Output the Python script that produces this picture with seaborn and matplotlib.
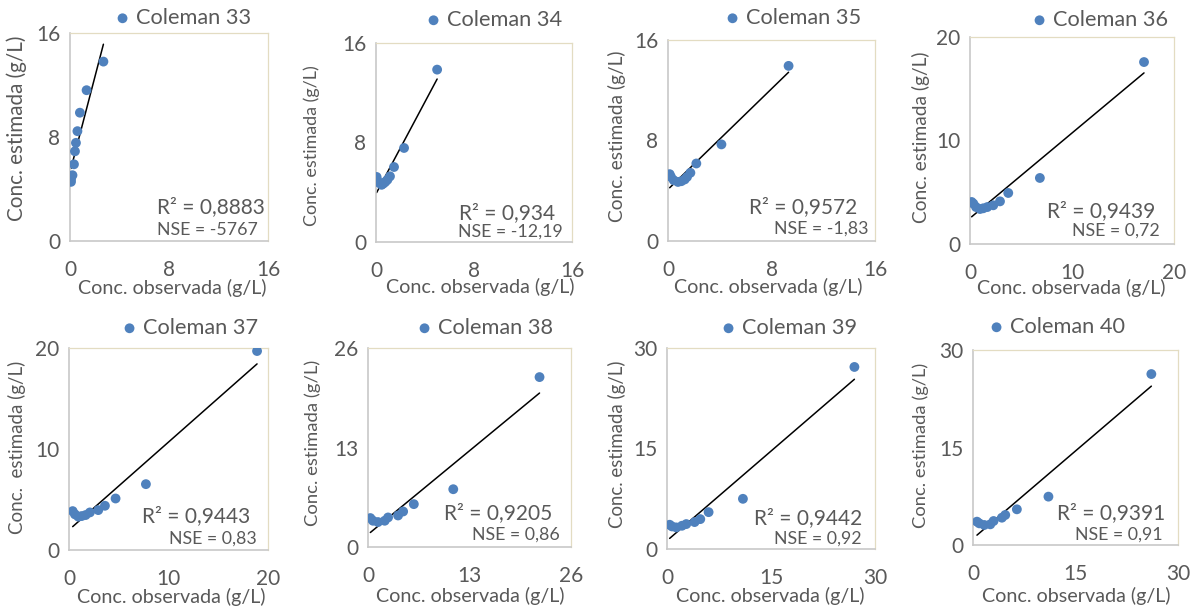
import numpy as np
import pandas as pd
import matplotlib
matplotlib.use("Agg")
import matplotlib.pyplot as plt
import seaborn as sns

# Observed vs. estimated sediment concentration, Coleman runs 33-40
names = ["Coleman 33", "Coleman 34", "Coleman 35", "Coleman 36",
         "Coleman 37", "Coleman 38", "Coleman 39", "Coleman 40"]

obs_33 = [0.08, 0.08, 0.20, 0.32, 0.40, 0.48, 0.60, 0.80, 1.34, 2.70]
est_33 = [4.55, 4.75, 5.06, 5.90, 6.90, 7.55, 8.45, 9.87, 11.60, 13.80]

obs_34 = [0.05, 0.10, 0.27, 0.46, 0.60, 0.76, 0.93, 1.14, 1.47, 2.29, 4.99]
est_34 = [5.23, 4.96, 4.75, 4.60, 4.70, 4.83, 5.00, 5.28, 6.03, 7.56, 13.86]

obs_35 = [0.13, 0.23, 0.44, 0.77, 1.03, 1.29, 1.47, 1.73, 2.19, 4.13, 9.32]
est_35 = [5.32, 5.10, 4.84, 4.70, 4.76, 4.90, 5.10, 5.43, 6.17, 7.69, 13.94]

obs_36 = [0.16, 0.33, 0.59, 0.98, 1.30, 1.70, 2.28, 2.94, 3.75, 6.85, 17.06]
est_36 = [4.06, 3.90, 3.57, 3.38, 3.45, 3.57, 3.74, 4.12, 4.93, 6.38, 17.58]

obs_37 = [0.37, 0.60, 0.94, 1.27, 1.67, 2.10, 2.94, 3.61, 4.68, 7.73, 18.90]
est_37 = [3.85, 3.53, 3.30, 3.36, 3.46, 3.72, 3.95, 4.38, 5.10, 6.52, 19.70]

obs_38 = [0.30, 0.64, 1.28, 2.14, 2.57, 3.85, 4.50, 5.87, 10.92, 21.97]
est_38 = [3.78, 3.43, 3.26, 3.43, 3.86, 4.12, 4.64, 5.60, 7.55, 22.20]

obs_39 = [0.38, 0.72, 1.34, 2.16, 2.78, 3.98, 4.80, 6.00, 10.95, 27.03]
est_39 = [3.62, 3.37, 3.22, 3.47, 3.72, 4.02, 4.46, 5.50, 7.49, 27.17]

obs_40 = [0.58, 0.92, 1.65, 2.53, 3.01, 4.23, 4.72, 6.42, 11.04, 26.10]
est_40 = [3.59, 3.33, 3.08, 3.18, 3.69, 4.20, 4.62, 5.49, 7.44, 26.30]

observed = [obs_33, obs_34, obs_35, obs_36, obs_37, obs_38, obs_39, obs_40]
estimated = [est_33, est_34, est_35, est_36, est_37, est_38, est_39, est_40]

axis_max = [16, 16, 16, 20, 20, 26, 30, 30]
tick_values = [[0, 8, 16], [0, 8, 16], [0, 8, 16], [0, 10, 20],
               [0, 10, 20], [0, 13, 26], [0, 15, 30], [0, 15, 30]]

r2_labels = ["R² = 0,8883", "R² = 0,934", "R² = 0,9572", "R² = 0,9439",
             "R² = 0,9443", "R² = 0,9205", "R² = 0,9442", "R² = 0,9391"]
nse_labels = ["NSE = -5767", "NSE = -12,19", "NSE = -1,83", "NSE = 0,72",
              "NSE = 0,83", "NSE = 0,86", "NSE = 0,92", "NSE = 0,91"]

x_title = "Conc. observada (g/L)"
y_titles = ["Conc. estimada (g/L)"] * 4 + ["Conc.  estimada (g/L)"] + ["Conc. estimada (g/L)"] * 3

# ---- layout (pixel coordinates on a 1199 x 608 canvas) ----
W, H = 1199, 608
# plot-area boxes: left, right, top, bottom
boxes = [(70, 268, 33, 241), (376, 572, 43, 242), (668, 875, 40, 241), (970, 1174, 37, 244),
         (69, 268, 348, 550), (368, 571, 348, 547), (667, 875, 348, 549), (973, 1178, 350, 545)]
legend_pos = [(123, 18), (434, 20), (733, 18), (1040, 20),
              (130, 328), (425, 328), (729, 328), (997, 327)]
r2_pos = [(265, 207), (555, 213), (857, 207), (1155, 211),
          (250, 516), (552, 513), (862, 518), (1165, 513)]
nse_pos = [(258, 230), (563, 232), (869, 229), (1160, 231),
           (257, 539), (560, 535), (862, 539), (1163, 535)]
xlab_pos = [(172, 288), (480, 287), (768, 287), (1071, 288),
            (171, 597), (470, 596), (770, 596), (1076, 596)]
ylab_pos = [(17, 128), (312, 146), (617, 136), (921, 137),
            (17, 447), (313, 443), (617, 444), (921, 445)]
ylab_size = [14.9, 12.9, 13.8, 13.8, 13.5, 13.3, 13.4, 13.2]

sns.set_style("white")
plt.rcParams["font.family"] = ["Lato", "DejaVu Sans"]

TEXT = "#595959"
AXIS = "#c8c8c8"
FRAME = "#e3dcc2"
BLUE = "#4f81bd"


def fx(x):
    return x / W


def fy(y):
    return 1 - y / H


fig = plt.figure(figsize=(W / 100, H / 100), dpi=100)

for i in range(8):
    l, r, t, b = boxes[i]
    ax = fig.add_axes([fx(l), fy(b), (r - l) / W, (b - t) / H])
    df = pd.DataFrame({"obs": observed[i], "est": estimated[i]})

    sns.regplot(data=df, x="obs", y="est", ax=ax, scatter=False, ci=None,
                truncate=True, color="black", line_kws={"linewidth": 1.1, "zorder": 2})
    sns.scatterplot(data=df, x="obs", y="est", ax=ax, color=BLUE, s=50,
                    edgecolor="none", label=names[i], zorder=3)

    m = axis_max[i]
    ax.set_xlim(0, m)
    ax.set_ylim(0, m)
    ax.set_xticks(tick_values[i])
    ax.set_yticks(tick_values[i])
    ax.tick_params(axis="both", direction="out", length=4, width=1.1, color=AXIS,
                   labelcolor=TEXT, labelsize=15)
    ax.tick_params(axis="x", pad=9.5)
    ax.tick_params(axis="y", pad=3)
    for side in ("left", "bottom"):
        ax.spines[side].set_color(AXIS)
        ax.spines[side].set_linewidth(1.2)
    for side in ("top", "right"):
        ax.spines[side].set_color(FRAME)
        ax.spines[side].set_linewidth(0.9)
    ax.set_facecolor("white")

    ax.set_xlabel(x_title, fontsize=14.2, color=TEXT, va="center", ha="center")
    ax.xaxis.set_label_coords(fx(xlab_pos[i][0]), fy(xlab_pos[i][1]), transform=fig.transFigure)
    ax.set_ylabel(y_titles[i], fontsize=ylab_size[i], color=TEXT, va="center", ha="center")
    ax.yaxis.set_label_coords(fx(ylab_pos[i][0]), fy(ylab_pos[i][1]), transform=fig.transFigure)

    mx, my = legend_pos[i]
    ax.legend(loc="center left", bbox_to_anchor=(fx(mx - 7), fy(my)),
              bbox_transform=fig.transFigure, frameon=False, borderpad=0,
              borderaxespad=0, handlelength=0.6, handletextpad=0.3,
              fontsize=15.7, labelcolor=TEXT)

    fig.text(fx(r2_pos[i][0]), fy(r2_pos[i][1]), r2_labels[i], ha="right", va="center",
             fontsize=15, color=TEXT)
    fig.text(fx(nse_pos[i][0]), fy(nse_pos[i][1]), nse_labels[i], ha="right", va="center",
             fontsize=12.8, color=TEXT)

fig.savefig("out.png", dpi=100, facecolor="white")
